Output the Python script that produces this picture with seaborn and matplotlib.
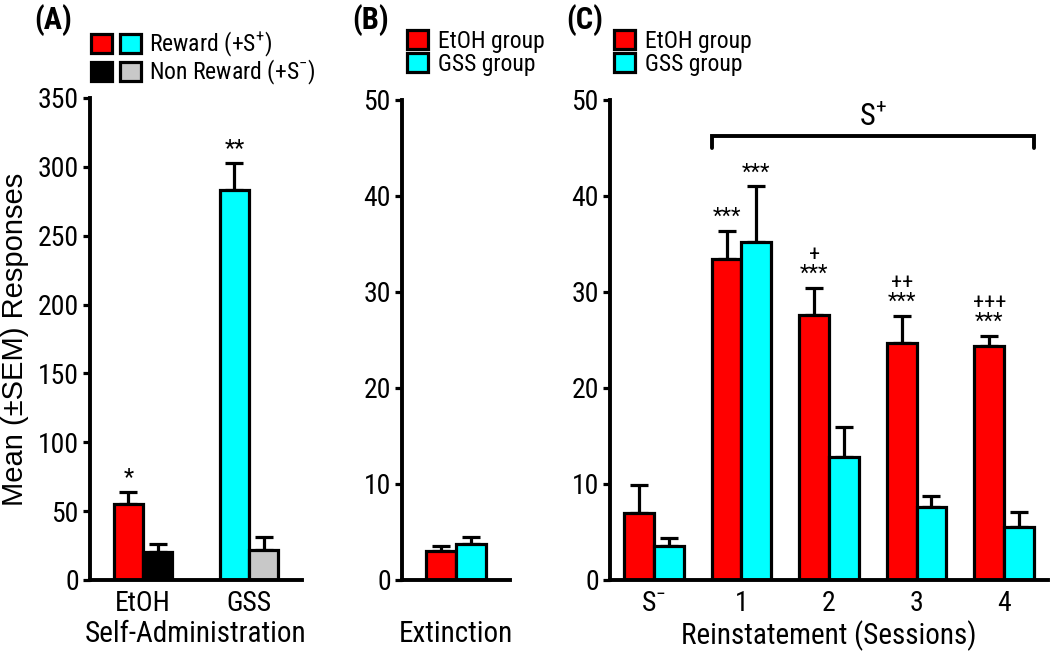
import numpy as np
import pandas as pd
import matplotlib
matplotlib.use("Agg")
import matplotlib.pyplot as plt
import seaborn as sns
from matplotlib.patches import Patch
from matplotlib.legend_handler import HandlerTuple
from matplotlib.container import BarContainer
from matplotlib import font_manager as fm

# ---------------- data ----------------
# Panel A: self-administration
sa_groups = ["EtOH", "GSS"]
sa_conditions = ["Reward", "Non Reward"]
sa_reward_mean = [55, 283]
sa_reward_sem = [9, 20]
sa_nonreward_mean = [20, 22]
sa_nonreward_sem = [6, 9]
sa_stars = ["*", "**"]

# Panel B: extinction
ext_groups = ["EtOH group", "GSS group"]
ext_mean = [3.0, 3.8]
ext_sem = [0.5, 0.7]

# Panel C: reinstatement
rein_labels = ["S$^{-}$", "1", "2", "3", "4"]
rein_etoh_mean = [7.0, 33.4, 27.6, 24.7, 24.4]
rein_etoh_sem = [2.9, 3.0, 2.8, 2.8, 1.0]
rein_gss_mean = [3.5, 35.2, 12.8, 7.6, 5.5]
rein_gss_sem = [0.9, 5.8, 3.1, 1.2, 1.6]
rein_etoh_marks = ["", "***", "+\n***", "++\n***", "+++\n***"]
rein_gss_marks = ["", "***", "", "", ""]

RED = "#FF0000"
CYAN = "#00FFFF"
BLACK = "#000000"
GREY = "#C8C8C8"

# ---------------- style ----------------
sns.set_style("ticks")

_names = {f.name for f in fm.fontManager.ttflist}
_prefs = ["Liberation Sans Narrow", "Arial Narrow", "Nimbus Sans Narrow",
          "Helvetica Narrow", "Roboto Condensed", "PT Sans Narrow",
          "Archivo Narrow", "Fira Sans Condensed", "IBM Plex Sans Condensed",
          "Encode Sans Condensed", "Sofia Sans Condensed", "Open Sans Condensed",
          "Pragati Narrow", "Arimo"]
NARROW = next((n for n in _prefs if n in _names), "Liberation Sans")
FONT = [NARROW, "Liberation Sans", "DejaVu Sans"]
WIDE = ["Liberation Sans", "DejaVu Sans"]
plt.rcParams["font.family"] = FONT
plt.rcParams["mathtext.fontset"] = "custom"
plt.rcParams["mathtext.rm"] = NARROW
plt.rcParams["mathtext.it"] = NARROW
plt.rcParams["mathtext.bf"] = NARROW
plt.rcParams["mathtext.default"] = "regular"
for k in ("text.color", "axes.labelcolor", "xtick.color", "ytick.color",
          "axes.edgecolor"):
    plt.rcParams[k] = "black"

LW = 2.3
TICKFS = 20
LABFS = 21

fig = plt.figure(figsize=(10.5, 6.54), dpi=100)
W, H = 1050, 654


def add_ax(x0, x1, y_top, y_bot=580):
    return fig.add_axes([x0 / W, 1 - y_bot / H, (x1 - x0) / W, (y_bot - y_top) / H])


axA = add_ax(90, 302, 98)
axB = add_ax(402, 510, 100)
axC = add_ax(610, 1048, 100)


def style_axis(ax):
    sns.despine(ax=ax)
    for s in ["left", "bottom"]:
        ax.spines[s].set_linewidth(LW + 0.5)
        ax.spines[s].set_color("black")
    ax.tick_params(axis="y", length=5, width=LW, labelsize=TICKFS, pad=3,
                   color="black", labelcolor="black")
    ax.tick_params(axis="x", length=0, labelsize=TICKFS, pad=7, labelcolor="black")
    ax.set_facecolor("white")


def bars_of(ax):
    return [c for c in ax.containers if isinstance(c, BarContainer)]


def add_errors(ax, patches, sems):
    for p, s in zip(patches, sems):
        x = p.get_x() + p.get_width() / 2
        y = p.get_height()
        ax.errorbar([x], [y], yerr=[[0], [s]], fmt="none", ecolor="black",
                    elinewidth=LW, capsize=6.5, capthick=LW, zorder=1, clip_on=False)


# ---------------- Panel A ----------------
dfA = pd.DataFrame({
    "group": sa_groups * 2,
    "cond": [sa_conditions[0]] * 2 + [sa_conditions[1]] * 2,
    "value": sa_reward_mean + sa_nonreward_mean,
})
sns.barplot(data=dfA, x="group", y="value", hue="cond", order=sa_groups,
            hue_order=sa_conditions, palette=[RED, BLACK], width=0.55,
            saturation=1, errorbar=None, edgecolor="black", linewidth=LW,
            legend=False, ax=axA, zorder=2)
face_A = [[RED, CYAN], [BLACK, GREY]]
sems_A = [sa_reward_sem, sa_nonreward_sem]
contA = bars_of(axA)
for ci, cont in enumerate(contA):
    for bi, bar in enumerate(cont):
        bar.set_facecolor(face_A[ci][bi])
    add_errors(axA, list(cont), sems_A[ci])
for bi, bar in enumerate(contA[0]):
    x = bar.get_x() + bar.get_width() / 2
    axA.text(x, sa_reward_mean[bi] + sa_reward_sem[bi] + 2, sa_stars[bi],
             ha="center", va="bottom", fontsize=17)
axA.set_ylim(0, 350)
axA.set_yticks(np.arange(0, 351, 50))
axA.set_xlim(-0.5, 1.5)
style_axis(axA)
axA.set_xlabel("Self-Administration", fontsize=LABFS)
axA.set_ylabel("Mean (\u00b1SEM) Responses", fontsize=21, family=WIDE)
axA.yaxis.set_label_coords(-0.29, 0.5)

# ---------------- Panel B ----------------
dfB = pd.DataFrame({"phase": ["Extinction"] * 2, "group": ext_groups, "value": ext_mean})
sns.barplot(data=dfB, x="phase", y="value", hue="group", hue_order=ext_groups,
            palette=[RED, CYAN], saturation=1, width=0.56, errorbar=None,
            edgecolor="black", linewidth=LW, legend=False, ax=axB, zorder=2)
for ci, cont in enumerate(bars_of(axB)):
    add_errors(axB, list(cont), [ext_sem[ci]])
axB.set_ylim(0, 50)
axB.set_yticks(np.arange(0, 51, 10))
axB.set_xlim(-0.5, 0.5)
style_axis(axB)
axB.set_xticks([0])
axB.set_xticklabels([""])
axB.set_xlabel("Extinction", fontsize=LABFS)
axB.set_ylabel("")

# ---------------- Panel C ----------------
dfC = pd.DataFrame({
    "session": rein_labels * 2,
    "group": [ext_groups[0]] * 5 + [ext_groups[1]] * 5,
    "value": rein_etoh_mean + rein_gss_mean,
})
sns.barplot(data=dfC, x="session", y="value", hue="group", order=rein_labels,
            hue_order=ext_groups, palette=[RED, CYAN], saturation=1, width=0.68,
            errorbar=None, edgecolor="black", linewidth=LW, legend=False,
            ax=axC, zorder=2)
sems_C = [rein_etoh_sem, rein_gss_sem]
means_C = [rein_etoh_mean, rein_gss_mean]
marks_C = [rein_etoh_marks, rein_gss_marks]
contC = bars_of(axC)
for ci, cont in enumerate(contC):
    add_errors(axC, list(cont), sems_C[ci])
    for bi, bar in enumerate(cont):
        m = marks_C[ci][bi]
        if m:
            x = bar.get_x() + bar.get_width() / 2
            axC.text(x, means_C[ci][bi] + sems_C[ci][bi] + 0.3, m, ha="center",
                     va="bottom", fontsize=16, linespacing=0.9)
axC.set_ylim(0, 50)
axC.set_yticks(np.arange(0, 51, 10))
axC.set_xlim(-0.5, 4.5)
style_axis(axC)
axC.set_xlabel("Reinstatement (Sessions)", fontsize=LABFS)
axC.set_ylabel("")

# S+ bracket spanning sessions 1-4
c0 = contC[0][1]
c1 = contC[1][4]
bx0 = c0.get_x()
bx1 = c1.get_x() + c1.get_width()
axC.plot([bx0, bx0, bx1, bx1], [45.0, 46.3, 46.3, 45.0], color="black",
         lw=LW + 0.5, clip_on=False, solid_joinstyle="miter")
axC.text((bx0 + bx1) / 2, 46.7, "S$^{+}$", ha="center", va="bottom", fontsize=22)

# common x label position
for ax in (axA, axB, axC):
    ax.xaxis.set_label_coords(0.5, -0.083)

# ---------------- legends ----------------
def sq(c):
    return Patch(facecolor=c, edgecolor="black", linewidth=LW)

legA = fig.legend(
    handles=[(sq(RED), sq(CYAN)), (sq(BLACK), sq(GREY))],
    labels=["Reward (+S$^{+}$)", "Non Reward (+S$^{-}$)"],
    handler_map={tuple: HandlerTuple(ndivide=None, pad=0.35)},
    loc="upper left", bbox_to_anchor=(91 / W, 1 - 30 / H), frameon=False,
    fontsize=17, handlelength=2.1, handleheight=0.85, handletextpad=0.35,
    labelspacing=-0.05, borderpad=0, borderaxespad=0)
for leg_x in (407, 614):
    fig.legend(handles=[sq(RED), sq(CYAN)], labels=ext_groups,
               loc="upper left", bbox_to_anchor=(leg_x / W, 1 - 30 / H),
               frameon=False, fontsize=17, handlelength=0.9, handleheight=0.85,
               handletextpad=0.4, labelspacing=0.0, borderpad=0, borderaxespad=0)

# panel labels
for lbl, x in (("(A)", 34), ("(B)", 352), ("(C)", 566)):
    fig.text(x / W, 1 - 20 / H, lbl, fontsize=22, fontweight="bold",
             ha="left", va="center")

fig.savefig("out.png", dpi=100, facecolor="white")
